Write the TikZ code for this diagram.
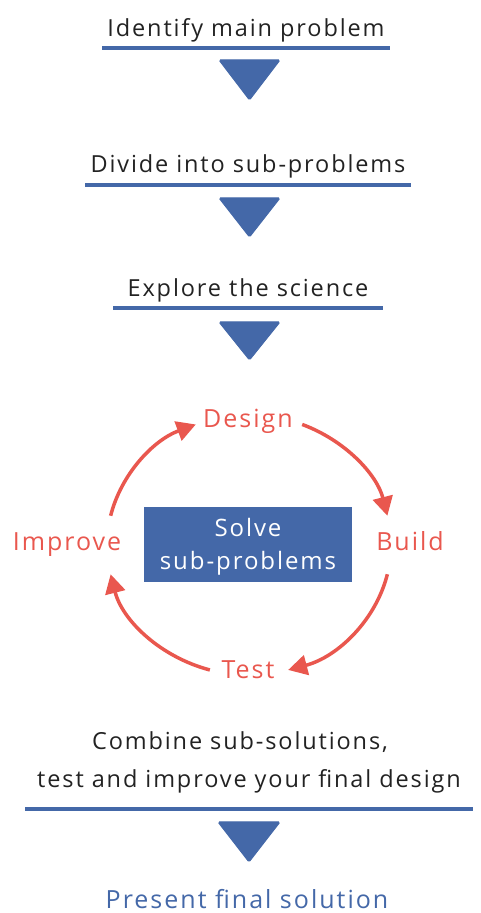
\documentclass[tikz,border=0pt]{standalone}
\usepackage{fontspec}
\setmainfont[LetterSpace=8]{Open Sans}
\usetikzlibrary{arrows.meta}
\definecolor{myblue}{HTML}{4468A8}
\definecolor{myred}{HTML}{E9574E}
\definecolor{mytext}{HTML}{222222}
\begin{document}
\begin{tikzpicture}[x=1pt,y=1pt,
  steptext/.style={font=\fontsize{23.5}{28}\selectfont, text=mytext, anchor=base, inner sep=0pt},
  cyctext/.style={font=\fontsize{25}{30}\selectfont, text=myred, anchor=base, inner sep=0pt},
  uline/.style={draw=myblue, line width=3.5pt},
  downtri/.style={fill=myblue, draw=myblue, line width=1pt, rounded corners=1.5pt},
  cycarrow/.style={draw=myred, line width=3.5pt, -{Triangle[length=19pt,width=20pt]}}]
\useasboundingbox (0,0) rectangle (481,913);
% step 1
\node[steptext] (s1) at (246,876) {Identify main problem};
\draw[uline] (102,865) -- (390,865);
\draw[downtri] (219,853) -- (280,853) -- (249.5,813) -- cycle;
% step 2
\node[steptext] (s2) at (248,740) {Divide into sub-problems};
\draw[uline] (85,728) -- (411,728);
\draw[downtri] (219,715) -- (280,715) -- (249.5,676) -- cycle;
% step 3
\node[steptext] (s3) at (248,616) {Explore the science};
\draw[uline] (113,605) -- (383,605);
\draw[downtri] (219,591) -- (280,591) -- (249.5,553) -- cycle;
% cycle
\coordinate (c) at (249,368);
\node[fill=myblue, minimum width=208pt, minimum height=75pt, inner sep=0pt] (box) at (248,368.5) {};
\node[font=\fontsize{24}{29}\selectfont, text=white, anchor=base, inner sep=0pt] (solve1) at (248,376) {Solve};
\node[font=\fontsize{24}{29}\selectfont, text=white, anchor=base, inner sep=0pt] (solve2) at (248,343) {sub-problems};
\node[cyctext] (design) at (248,485) {Design};
\node[cyctext] (build) at (410,362) {Build};
\node[cyctext] (test) at (248,234) {Test};
\node[cyctext] (improve) at (67,362) {Improve};
\draw[cycarrow] (c) ++(167:142 and 130) arc[start angle=167, end angle=112, x radius=142, y radius=130];
\draw[cycarrow] (c) ++(68:142 and 130) arc[start angle=68, end angle=13, x radius=142, y radius=130];
\draw[cycarrow] (c) ++(-13:142 and 130) arc[start angle=-13, end angle=-74, x radius=142, y radius=130];
\draw[cycarrow] (c) ++(254:142 and 130) arc[start angle=254, end angle=193, x radius=142, y radius=130];
% final
\node[steptext] (s4a) at (240,163) {Combine sub-solutions,};
\node[steptext] (s4b) at (249,125) {test and improve your final design};
\draw[uline] (25,104) -- (473,104);
\draw[downtri] (218,91) -- (280,91) -- (249,51) -- cycle;
\node[steptext, text=myblue, font=\fontsize{25}{30}\selectfont] (present) at (247,5) {Present final solution};
\end{tikzpicture}
\end{document}
